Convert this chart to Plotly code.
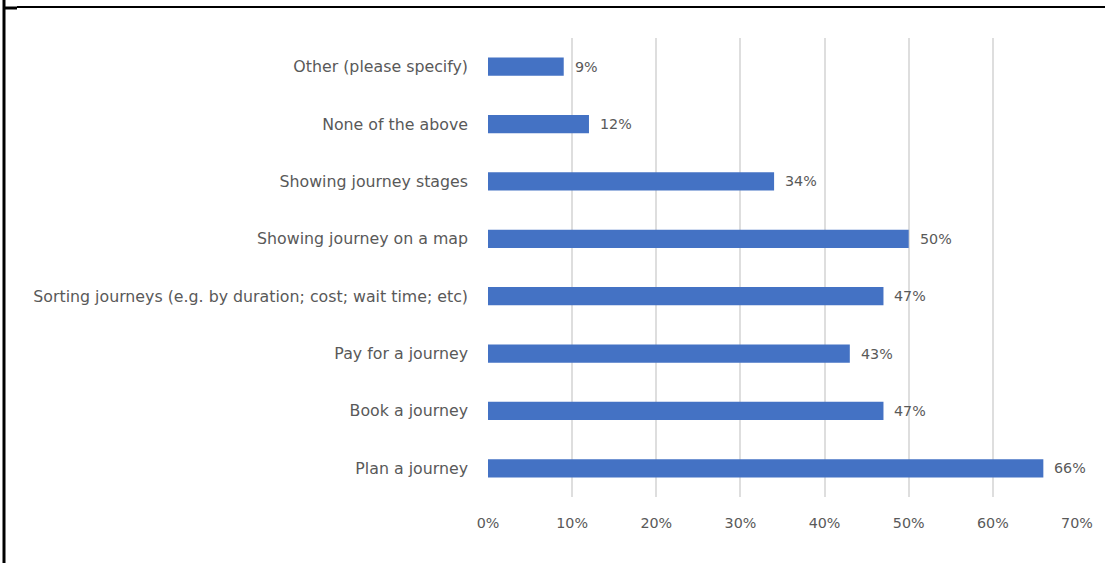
import plotly.graph_objects as go

# Survey responses: share of respondents choosing each feature
categories = [
    "Plan a journey",
    "Book a journey",
    "Pay for a journey",
    "Sorting journeys (e.g. by duration; cost; wait time; etc)",
    "Showing journey on a map",
    "Showing journey stages",
    "None of the above",
    "Other (please specify)",
]
shares = [0.66, 0.47, 0.43, 0.47, 0.50, 0.34, 0.12, 0.09]
x_ticks = [0, 0.1, 0.2, 0.3, 0.4, 0.5, 0.6, 0.7]
x_tick_labels = ["0%", "10%", "20%", "30%", "40%", "50%", "60%", "70%"]

W, H = 1105, 563
L, R, T, B = 488, 28, 38, 66
FONT = "DejaVu Sans"
NUM_SIZE = 14.3
CAT_SIZE = 15.8
TEXT_COLOR = "#595959"

fig = go.Figure(
    go.Bar(
        x=shares,
        y=categories,
        orientation="h",
        marker=dict(color="#4472C4", line=dict(width=0)),
        width=0.32,
        hoverinfo="skip",
    )
)

# value labels just past each bar end
for cat, v in zip(categories, shares):
    fig.add_annotation(
        x=v, y=cat, xref="x", yref="y",
        text=f"{round(v * 100)}%",
        showarrow=False, xanchor="left", xshift=9,
        font=dict(family=FONT, size=NUM_SIZE, color=TEXT_COLOR),
    )


def px_x(p):
    return (p - L) / (W - L - R)


def px_y(p):
    return 1 - (p - T) / (H - T - B)


# black frame edges around the chart region
frame = [
    (px_x(4), px_y(0), px_x(4), px_y(H), 3),
    (px_x(17), px_y(7), px_x(W), px_y(7), 2),
    (px_x(4), px_y(8), px_x(17), px_y(8), 3),
]
for x0, y0, x1, y1, w in frame:
    fig.add_shape(
        type="line", xref="paper", yref="paper",
        x0=x0, y0=y0, x1=x1, y1=y1,
        line=dict(color="black", width=w),
    )

fig.update_layout(
    width=W, height=H,
    margin=dict(l=L, r=R, t=T, b=B),
    paper_bgcolor="white", plot_bgcolor="white",
    showlegend=False,
    font=dict(family=FONT, size=NUM_SIZE, color=TEXT_COLOR),
    xaxis=dict(
        range=[0, 0.7], tickvals=x_ticks, ticktext=x_tick_labels,
        tickfont=dict(size=NUM_SIZE),
        showgrid=True, gridcolor="#DEDEDE", gridwidth=1.5,
        zeroline=False, showline=False, ticks="",
        ticklabelstandoff=16, fixedrange=True,
    ),
    yaxis=dict(
        categoryorder="array", categoryarray=categories,
        tickfont=dict(size=CAT_SIZE),
        showgrid=False, zeroline=False, showline=False, ticks="",
        ticklabelstandoff=19, fixedrange=True,
    ),
)

fig.write_html("out.html")
